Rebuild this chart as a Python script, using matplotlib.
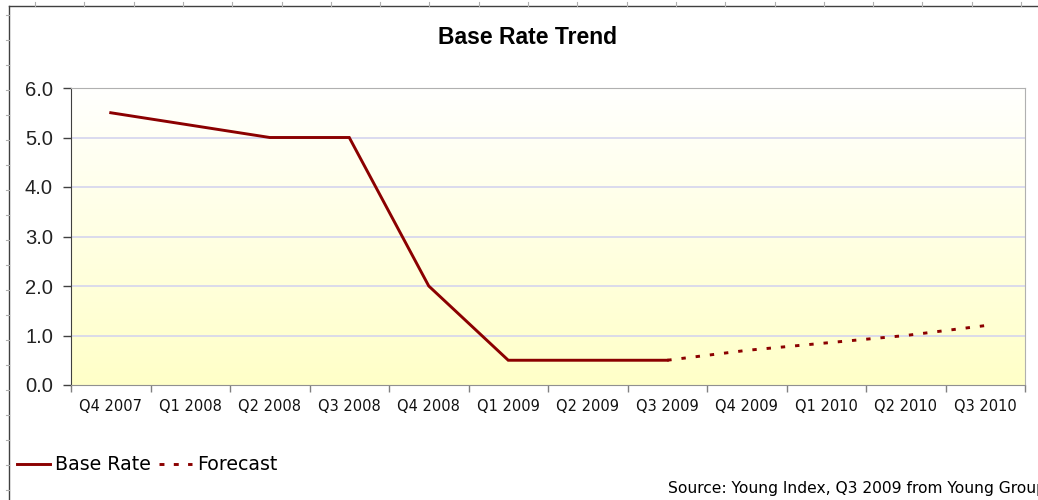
import numpy as np
import matplotlib.pyplot as plt
from matplotlib.lines import Line2D
from matplotlib.colors import LinearSegmentedColormap

quarters = ['Q4 2007', 'Q1 2008', 'Q2 2008', 'Q3 2008', 'Q4 2008', 'Q1 2009',
            'Q2 2009', 'Q3 2009', 'Q4 2009', 'Q1 2010', 'Q2 2010', 'Q3 2010']
base_rate = [5.5, 5.25, 5.0, 5.0, 2.0, 0.5, 0.5, 0.5]
forecast = [0.5, 0.7, 0.85, 1.0, 1.2]

line_color = '#8B0000'
lw = 2.1
dash = (0, (1.5, 3.4))

fig = plt.figure(figsize=(10.38, 5.0), dpi=100)
ax = fig.add_axes([71 / 1038, 1 - 385 / 500, (1025 - 71) / 1038, (385 - 88) / 500])

x_base = np.arange(len(base_rate))
x_fc = np.arange(len(base_rate) - 1, len(base_rate) - 1 + len(forecast))

ax.plot(x_base, base_rate, color=line_color, lw=lw, solid_joinstyle='miter', zorder=3)
ax.plot(x_fc, forecast, color=line_color, lw=lw, linestyle=dash,
        dash_capstyle='butt', zorder=3)

ax.set_xlim(-0.5, len(quarters) - 0.5)
ax.set_ylim(0, 6)

# white-to-pale-yellow fill behind the plot
cmap = LinearSegmentedColormap.from_list('bg', ['#FFFFC8', '#FFFFFE'])
grad = np.linspace(0, 1, 256).reshape(-1, 1)
ax.imshow(grad, cmap=cmap, aspect='auto', origin='lower',
          extent=[-0.5, len(quarters) - 0.5, 0, 6], zorder=0)

for yv in range(1, 6):
    ax.axhline(yv, color='#D4D4EE', lw=1.2, zorder=1)

ax.set_yticks(np.arange(0, 7, 1))
ax.set_yticklabels([f'{v:.1f}' for v in range(7)], fontsize=14.5,
                   family='Liberation Sans', color='#222222')
ax.set_xticks(np.arange(len(quarters)))
ax.set_xticklabels(quarters, fontsize=10.5, family='DejaVu Sans', color='#111111')
ax.set_xticks(np.arange(-0.5, len(quarters), 1), minor=True)
ax.tick_params(axis='x', which='major', length=0, pad=10)
ax.tick_params(axis='x', which='minor', length=5, color='#808080', width=1)
ax.tick_params(axis='y', length=6, color='#404040', width=1, pad=7)

for side in ['top', 'right']:
    ax.spines[side].set_color('#B0B0B0')
ax.spines['left'].set_color('#404040')
ax.spines['bottom'].set_color('#909090')

fig.text(527 / 1038, 1 - 37 / 500, 'Base Rate Trend', ha='center', va='center',
         fontsize=16.5, fontweight='bold', family='Liberation Sans')

# sheet edge lines with small ruler marks
fig.add_artist(Line2D([9 / 1038, 1], [1 - 6 / 500, 1 - 6 / 500], color='#404040', lw=1))
fig.add_artist(Line2D([9 / 1038, 9 / 1038], [0, 1 - 6 / 500], color='#404040', lw=1))
for xp in np.arange(35, 1038, 49.3):
    fig.add_artist(Line2D([xp / 1038, xp / 1038], [1 - 2 / 500, 1 - 6 / 500],
                          color='#B0B0B0', lw=0.8))
for yp in np.arange(15, 500, 25):
    fig.add_artist(Line2D([6 / 1038, 9 / 1038], [1 - yp / 500, 1 - yp / 500],
                          color='#B0B0B0', lw=0.8))

handles = [Line2D([], [], color=line_color, lw=lw),
           Line2D([], [], color=line_color, lw=lw, linestyle=(0, (1.7, 3.2)),
                  dash_capstyle='butt')]
fig.legend(handles, ['Base Rate', 'Forecast'], loc='center left',
           bbox_to_anchor=(17 / 1038, 1 - 465 / 500), ncol=2, frameon=False,
           fontsize=13.7, handlelength=1.74, handletextpad=0.26, columnspacing=0.42,
           borderaxespad=0, borderpad=0)

fig.text(668 / 1038, 1 - 488 / 500, 'Source: Young Index, Q3 2009 from Young Group',
         ha='left', va='center', fontsize=11.2, family='DejaVu Sans')

fig.savefig('out.png', dpi=100)
